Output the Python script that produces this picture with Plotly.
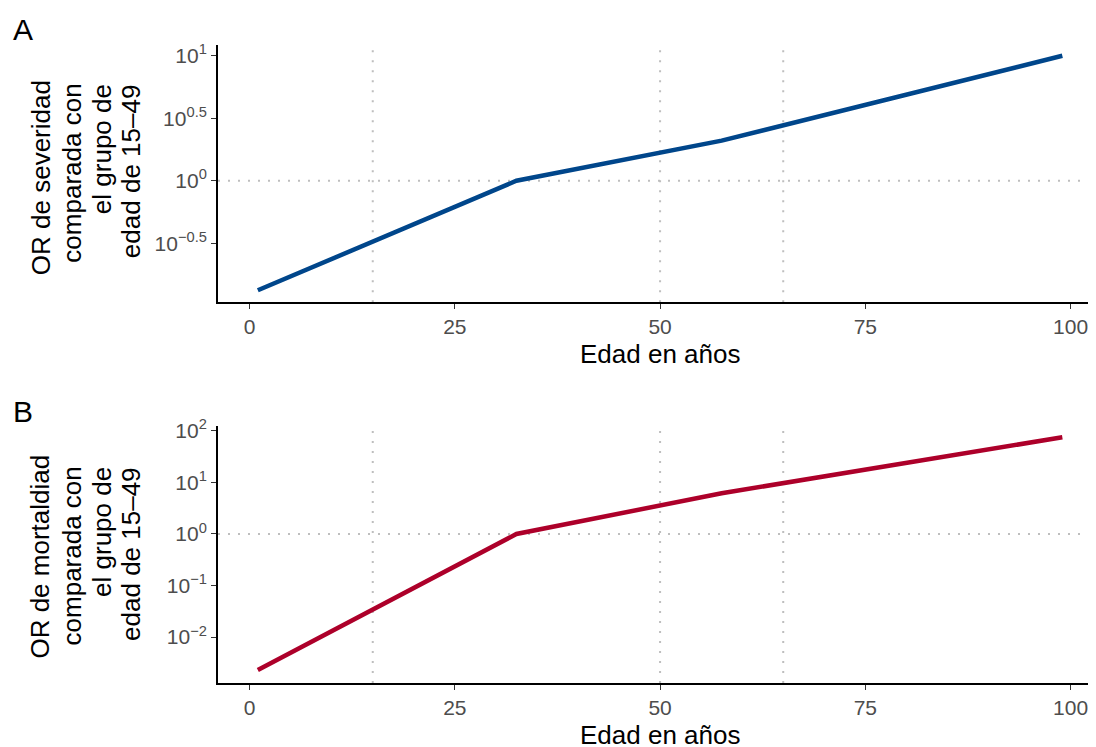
import plotly.graph_objects as go

# ---- data ----
ages = [1, 32.5, 57.5, 99]
or_severidad = [0.133, 1.0, 2.094, 10.0]
or_mortalidad = [0.00229, 1.0, 6.17, 75.2]
ref_ages = [15, 50, 65]
ref_or = 1

xticks = [0, 25, 50, 75, 100]
yticks_a = [10 ** -0.5, 1, 10 ** 0.5, 10]
yticktext_a = ["10<sup>\u22120.5</sup>", "10<sup>0</sup>", "10<sup>0.5</sup>", "10<sup>1</sup>"]
yticks_b = [0.01, 0.1, 1, 10, 100]
yticktext_b = ["10<sup>\u22122</sup>", "10<sup>\u22121</sup>", "10<sup>0</sup>", "10<sup>1</sup>", "10<sup>2</sup>"]

title_x = "Edad en años"
ytitle_a = ["OR de severidad", "comparada con", "el grupo de", "edad de 15\u201349"]
ytitle_b = ["OR de mortaldiad", "comparada con", "el grupo de", "edad de 15\u201349"]

W, H = 1096, 747
OFF = 8  # page body margin
FONT = "Liberation Sans"
BLUE = "#00468B"
RED = "#AD002A"


def py(p, extra=0):
    return 1 - (p - OFF - extra) / H


def px(p):
    return (p - OFF) / W


EA = 7   # vertical correction, panel A
EB = 3   # vertical correction, panel B

fig = go.Figure()
fig.add_trace(go.Scatter(x=ages, y=or_severidad, mode="lines",
                         line=dict(color=BLUE, width=4.5), xaxis="x", yaxis="y",
                         showlegend=False, hoverinfo="skip"))
fig.add_trace(go.Scatter(x=ages, y=or_mortalidad, mode="lines",
                         line=dict(color=RED, width=4.5), xaxis="x2", yaxis="y2",
                         showlegend=False, hoverinfo="skip"))

axis_common = dict(showline=True, linecolor="black", linewidth=1.8, mirror=False,
                   ticks="outside", ticklen=5, tickwidth=1.4, tickcolor="#333333",
                   tickfont=dict(size=21, color="#4D4D4D", family=FONT),
                   showgrid=False, zeroline=False)

xdom = [px(218), px(1096)]
xrange = [-3.85, 103.1]
fig.update_layout(
    width=W, height=H,
    margin=dict(l=0, r=0, t=0, b=0),
    paper_bgcolor="white", plot_bgcolor="white",
    font=dict(family=FONT, color="black"),
    xaxis=dict(domain=xdom, range=xrange, tickvals=xticks, anchor="y", **axis_common),
    yaxis=dict(domain=[py(303, EA), py(42, EA)], type="log", range=[-0.971, 1.089],
               tickvals=yticks_a, ticktext=yticktext_a, anchor="x", **axis_common),
    xaxis2=dict(domain=xdom, range=xrange, tickvals=xticks, anchor="y2", **axis_common),
    yaxis2=dict(domain=[py(685, EB), py(425, EB)], type="log", range=[-2.89, 2.086],
                tickvals=yticks_b, ticktext=yticktext_b, anchor="x2", **axis_common),
)

ref_line = dict(color="#BEBEBE", width=2, dash="2px,8px")
for xa, ya in (("x", "y"), ("x2", "y2")):
    for a in ref_ages:
        fig.add_shape(type="line", xref=xa, yref=ya + " domain", x0=a, x1=a, y0=0, y1=1,
                      line=ref_line, layer="below")
    fig.add_shape(type="line", xref=xa + " domain", yref=ya, x0=0, x1=1, y0=ref_or, y1=ref_or,
                  line=ref_line, layer="below")

ann = []
# panel tags
ann.append(dict(text="A", x=px(11), y=py(30, 10), xanchor="left", yanchor="middle",
                font=dict(size=30, family=FONT, color="black")))
ann.append(dict(text="B", x=px(11), y=py(410, 3), xanchor="left", yanchor="middle",
                font=dict(size=30, family=FONT, color="black")))
# x titles
ann.append(dict(text=title_x, x=px(660), y=py(354, 5), xanchor="center", yanchor="middle",
                font=dict(size=26, family=FONT, color="black")))
ann.append(dict(text=title_x, x=px(660), y=py(736, 1), xanchor="center", yanchor="middle",
                font=dict(size=26, family=FONT, color="black")))
# y titles (rotated, right-aligned lines)
centers = [40.5, 72, 102, 131]
tops_a = [76, 80, 80, 80]
tops_b = [452, 464, 464, 464]
for txt, cx, top in zip(ytitle_a, centers, tops_a):
    ann.append(dict(text=txt, x=px(cx), y=py(top, EA), xanchor="center", yanchor="top",
                    textangle=-90, font=dict(size=26, family=FONT, color="black")))
for txt, cx, top in zip(ytitle_b, centers, tops_b):
    ann.append(dict(text=txt, x=px(cx), y=py(top, EB), xanchor="center", yanchor="top",
                    textangle=-90, font=dict(size=26, family=FONT, color="black")))

for a in ann:
    a.update(xref="paper", yref="paper", showarrow=False)
fig.update_layout(annotations=ann)

fig.write_html("out.html")
